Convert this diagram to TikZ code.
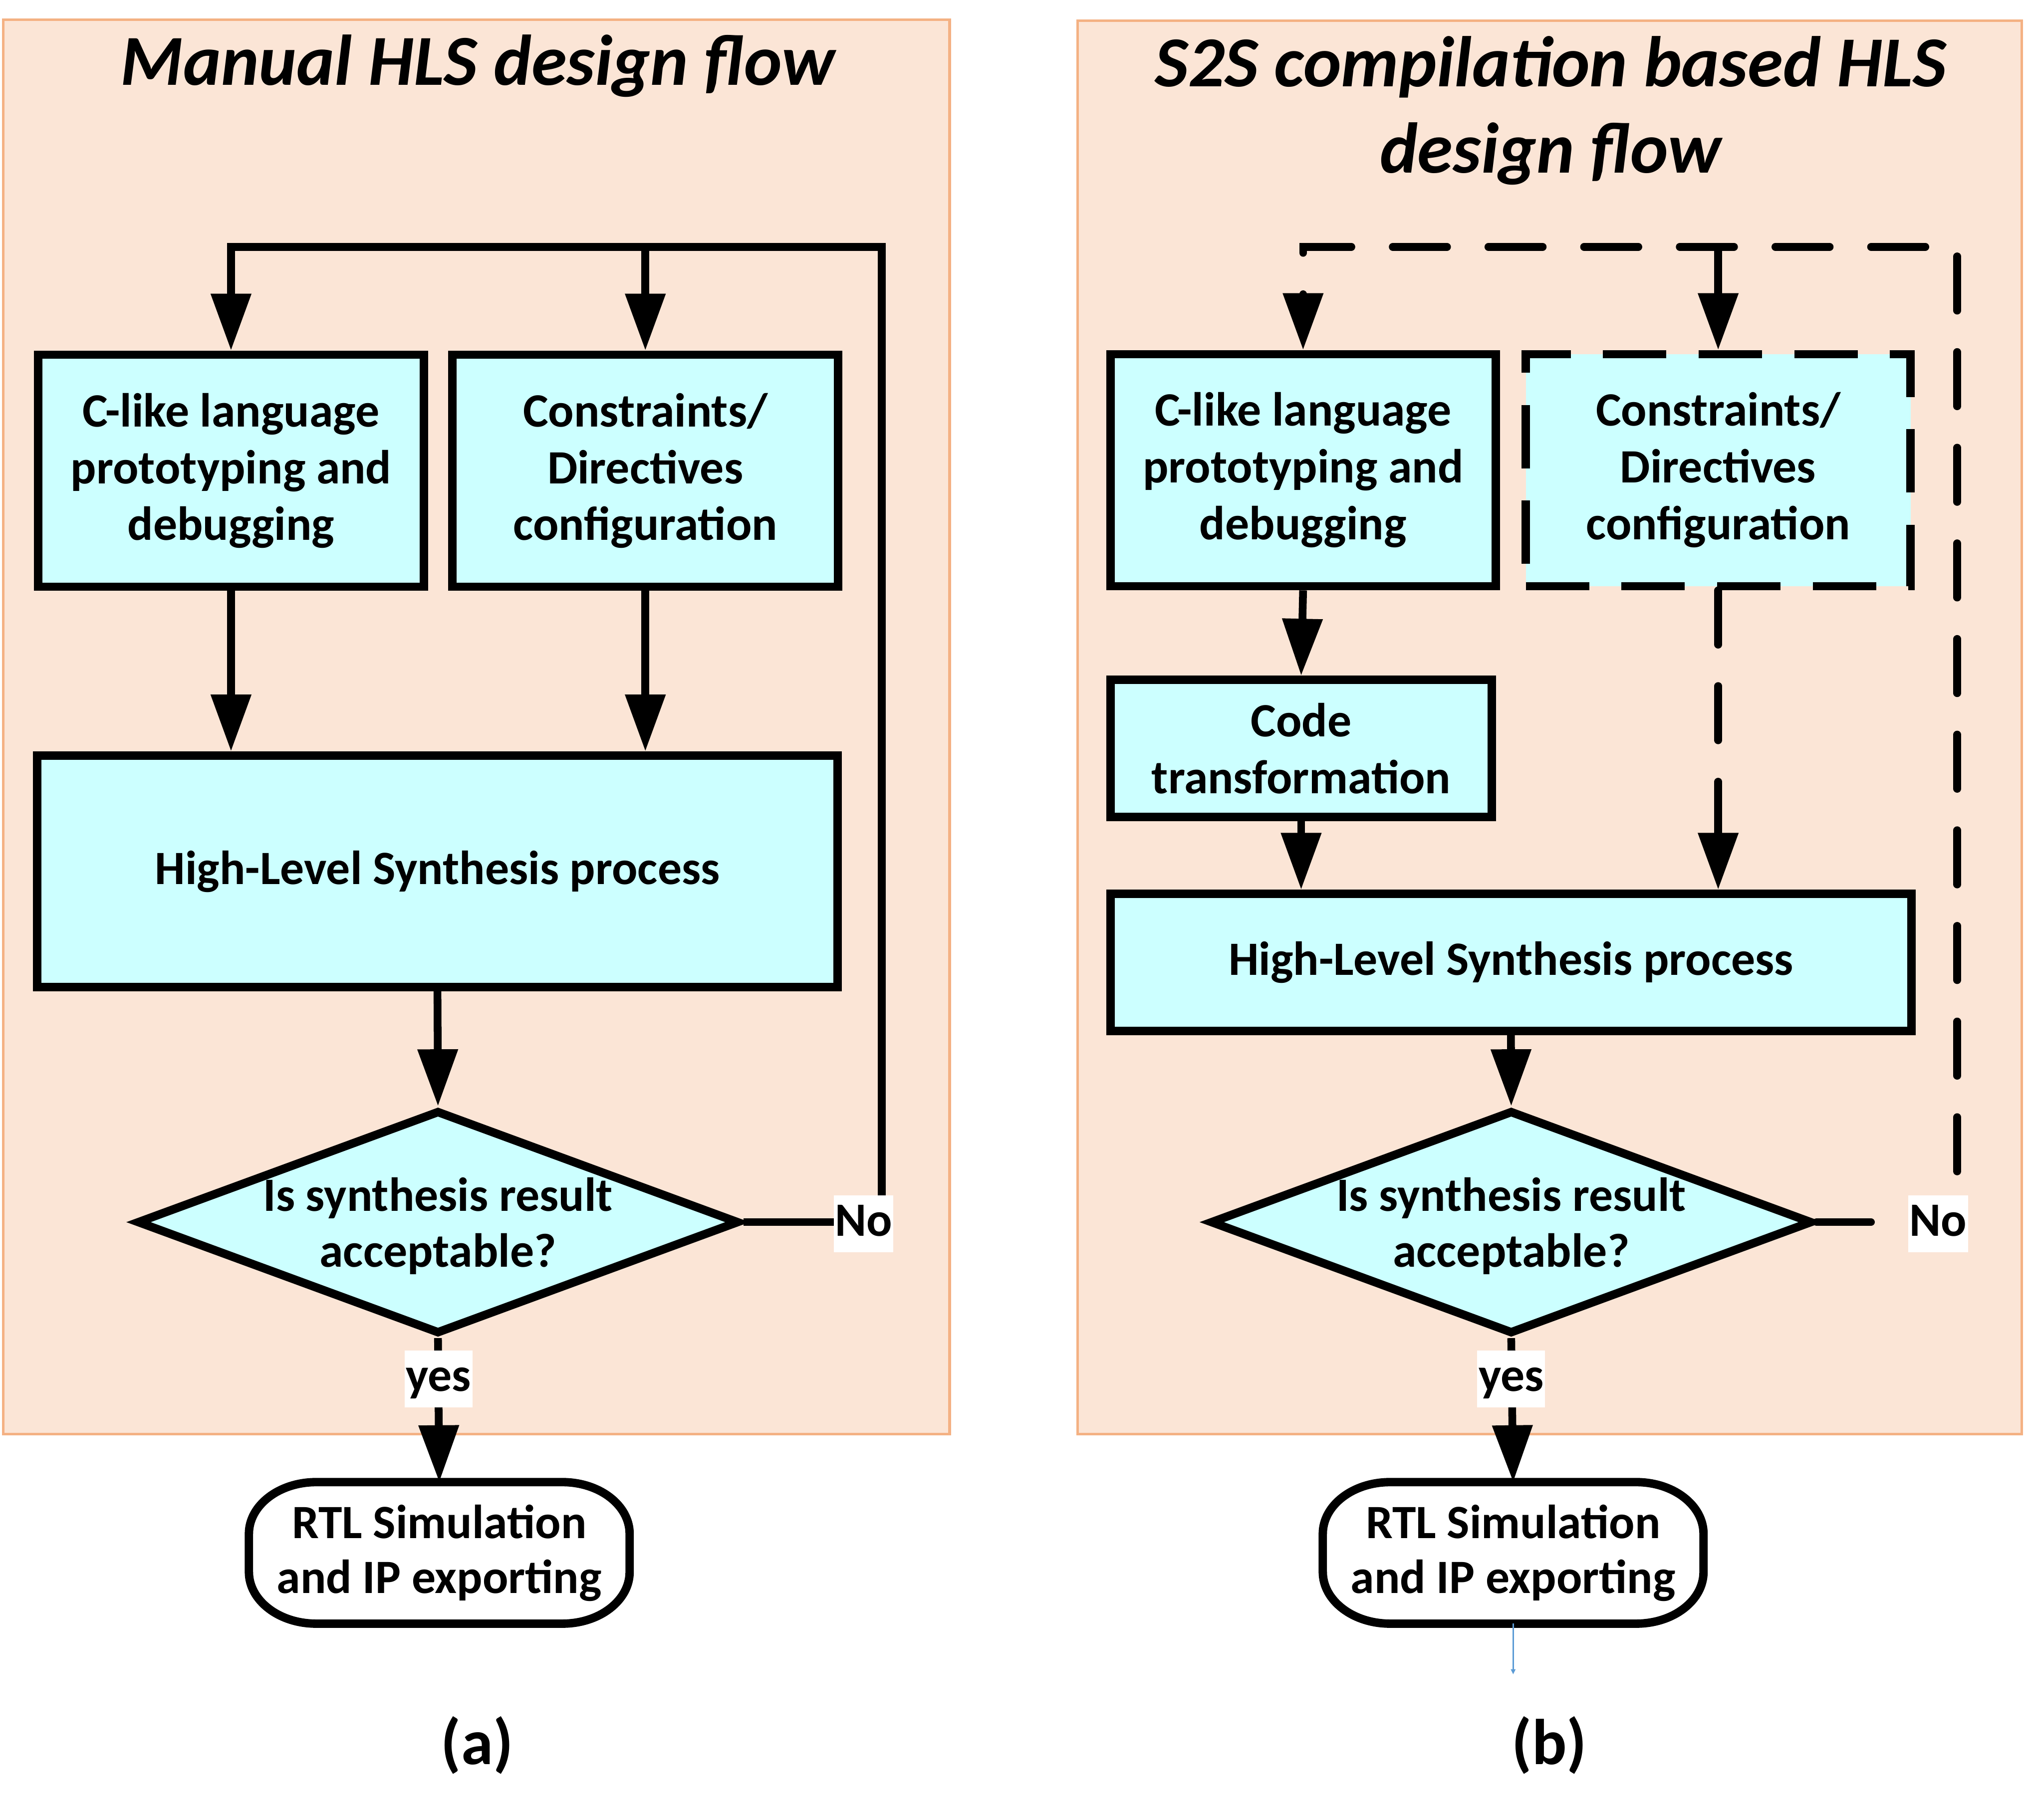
\documentclass[tikz,border=0pt]{standalone}
\usepackage{fontspec}
\setmainfont{Carlito}
\usetikzlibrary{arrows.meta,shapes.geometric}
\definecolor{panelfill}{HTML}{FBE5D6}
\definecolor{panelline}{HTML}{F4B183}
\definecolor{boxfill}{HTML}{CCFFFF}
\definecolor{tickblue}{HTML}{5B9BD5}
\tikzset{
  panel/.style={fill=panelfill,draw=panelline,line width=2pt,inner sep=0pt},
  procbox/.style={draw=black,fill=boxfill,line width=6.5pt,inner sep=0pt,align=center,
    font=\fontsize{37}{44}\selectfont\bfseries},
  dashbox/.style={procbox,dash pattern=on 49pt off 25pt},
  decision/.style={diamond,draw=black,fill=boxfill,line width=6.5pt,inner sep=0pt,
    minimum width=466pt,minimum height=173pt},
  dtext/.style={align=center,inner sep=0pt,font=\fontsize{37}{43.4}\selectfont\bfseries},
  term/.style={inner sep=0pt,outer sep=3.25pt,minimum width=288pt,minimum height=103pt},
  termtext/.style={align=center,inner sep=0pt,font=\fontsize{37}{42.5}\selectfont\bfseries},
  termline/.style={draw=black,fill=white,line width=6.5pt},
  flow/.style={line width=6pt,-{Triangle[length=44pt,width=30pt]}},
  loopflow/.style={flow,line join=miter},
  dashflow/.style={flow,line cap=round,dash pattern=on 42pt off 32pt},
  tag/.style={fill=white,inner sep=1pt,minimum height=44pt,text height=25pt,text depth=6pt,
    font=\fontsize{37}{44}\selectfont\bfseries},
  title/.style={anchor=base,inner sep=0pt,font=\fontsize{55.5}{67}\selectfont\bfseries\itshape},
  caption/.style={anchor=base,inner sep=0pt,font=\fontsize{50}{60}\selectfont\bfseries},
  blueline/.style={draw=tickblue,line width=1pt,-{Triangle[length=4pt,width=3.5pt]}}
}
\begin{document}
\begin{tikzpicture}[x=1pt,y=-1pt]
\useasboundingbox (0,0) rectangle (1568,1408);
\fill[white] (0,0) rectangle (1568,1408);

% panels
\node[panel,minimum width=732.2pt,minimum height=1094.2pt] (P1) at (368.5,562.5) {};
\node[panel,minimum width=730.3pt,minimum height=1093.6pt] (P2) at (1198.85,562.8) {};

% titles
\node[title] (TL) at (369.7,66) {Manual HLS design flow};
\node[title] (TR1) at (1199.5,66.9) {S2S compilation based HLS};
\node[title] (TR2) at (1199.5,133.8) {design flow};

% ---------- left flow ----------
\node[procbox,minimum width=298.5pt,minimum height=179.5pt] (C1) at (178.7,364.2)
  {C-like language\\prototyping and\\debugging};
\node[procbox,minimum width=298.5pt,minimum height=179.5pt] (K1) at (499.2,364.2)
  {Constraints/\\Directives\\configuration};
\node[procbox,minimum width=619.2pt,minimum height=179.2pt] (H1) at (338.4,674.2)
  {High-Level Synthesis process};
\node[decision] (D1) at (338.8,945.6) {};
\node[dtext] (D1t) at (338.8,948.6) {Is synthesis result\\acceptable?};
\node[term] (T1) at (339.8,1201.5) {};
\draw[termline] ([xshift=52pt]T1.north west) -- ([xshift=-52pt]T1.north east)
  arc[start angle=90,end angle=0,x radius=52pt,y radius=40pt]
  -- ([yshift=40pt]T1.south east)
  arc[start angle=0,end angle=-90,x radius=52pt,y radius=40pt]
  -- ([xshift=52pt]T1.south west)
  arc[start angle=270,end angle=180,x radius=52pt,y radius=40pt]
  -- ([yshift=-40pt]T1.north west)
  arc[start angle=180,end angle=90,x radius=52pt,y radius=40pt] -- cycle;
\node[termtext] (T1t) at (T1.center) {RTL Simulation\\and IP exporting};

\coordinate (L2) at (682,191);
\draw[flow] (C1.south) -- (C1.south |- H1.north);
\draw[flow] (K1.south) -- (K1.south |- H1.north);
\draw[flow] (H1.south) -- (D1.north);
\draw[flow] (D1.south) -- (T1.north);
\draw[loopflow] (D1.east) -- (D1.east -| L2) -- (L2) -- (C1.north |- L2) -- (C1.north);
\draw[flow] (K1.north |- L2) -- (K1.north);
\node[tag] (No1) at (668,946.9) {No};
\node[tag] (Yes1) at (339.2,1067) {yes};

% ---------- right flow ----------
\node[procbox,minimum width=298pt,minimum height=179.5pt] (C2) at (1008,363.8)
  {C-like language\\prototyping and\\debugging};
\node[dashbox,minimum width=297.6pt,minimum height=179.5pt] (K2) at (1329.1,363.8)
  {Constraints/\\Directives\\configuration};
\node[procbox,minimum width=294.7pt,minimum height=106.2pt] (X2) at (1006.5,579.1)
  {Code\\transformation};
\node[procbox,minimum width=619.6pt,minimum height=106.2pt] (H2) at (1168.8,744.7)
  {High-Level Synthesis process};
\node[decision] (D2) at (1169,945.6) {};
\node[dtext] (D2t) at (1169,948.6) {Is synthesis result\\acceptable?};
\node[term] (T2) at (1170.5,1201.5) {};
\draw[termline] ([xshift=52pt]T2.north west) -- ([xshift=-52pt]T2.north east)
  arc[start angle=90,end angle=0,x radius=52pt,y radius=40pt]
  -- ([yshift=40pt]T2.south east)
  arc[start angle=0,end angle=-90,x radius=52pt,y radius=40pt]
  -- ([xshift=52pt]T2.south west)
  arc[start angle=270,end angle=180,x radius=52pt,y radius=40pt]
  -- ([yshift=-40pt]T2.north west)
  arc[start angle=180,end angle=90,x radius=52pt,y radius=40pt] -- cycle;
\node[termtext] (T2t) at (T2.center) {RTL Simulation\\and IP exporting};

\coordinate (R2) at (1514,191);
\coordinate (Bt) at (1170.5,1295.5);
\draw[flow] (C2.south) -- (X2.north);
\draw[flow] (X2.south) -- (X2.south |- H2.north);
\draw[dashflow] (K2.south) -- (K2.south |- H2.north);
\draw[flow] (H2.south) -- (D2.north);
\draw[flow] (D2.south) -- (T2.north);
\draw[dashflow] (D2.east) -- (D2.east -| R2) -- (R2) -- (C2.north |- R2) -- (C2.north);
\draw[dashflow] (K2.north |- R2) -- (K2.north);
\draw[blueline] (T2.south) -- (Bt);
\node[tag] (No2) at (1499.3,946.9) {No};
\node[tag] (Yes2) at (1169,1067) {yes};

% captions
\node[caption] (CapA) at (369,1365) {(a)};
\node[caption] (CapB) at (1198.6,1365) {(b)};
\end{tikzpicture}
\end{document}
